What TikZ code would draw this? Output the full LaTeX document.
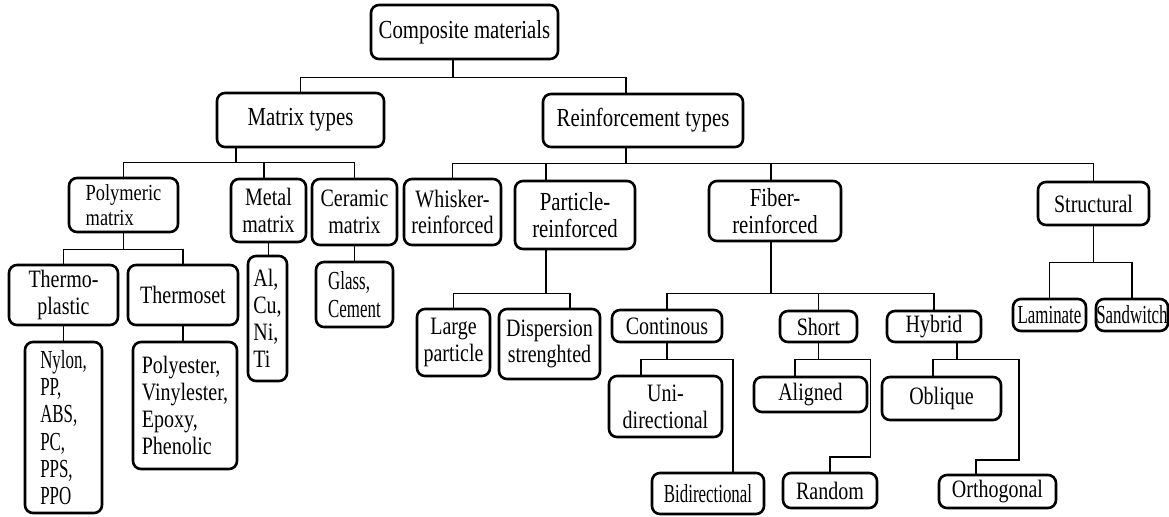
\documentclass[tikz,border=0pt]{standalone}
\usepackage{fontspec}
\setmainfont{Liberation Serif}[FakeStretch=0.8]
\newfontfamily\narrowserif{Liberation Serif}[FakeStretch=0.65]
\tikzset{
  box/.style={draw,line width=1.3pt,rounded corners=4pt,align=center,inner sep=1pt},
  sz/.style 2 args={minimum width=#1*0.5pt,minimum height=#2*0.5pt},
  fL/.style={font=\fontsize{13}{13.5}\selectfont},
  fM/.style={font=\fontsize{12.5}{13.4}\selectfont},
  fS/.style={font=\fontsize{11.5}{12.5}\selectfont},
  fN/.style={font=\narrowserif\fontsize{13}{13.6}\selectfont},
  link/.style={line width=0.8pt}}

\begin{document}
\begin{tikzpicture}[x=0.5pt,y=-0.5pt]
\useasboundingbox (0,0) rectangle (1169,516);
\node[box,fL,sz={187}{54}] (comp) at (464.5,32) {Composite materials};
\node[box,fL,sz={167}{54}] (matrix) at (300.5,120) {Matrix types};
\node[box,fL,sz={200}{53}] (reinf) at (643,120.5) {Reinforcement types};
\node[box,fS,sz={109}{54},align=left] (poly) at (123.5,205) {Polymeric\\matrix};
\node[box,fM,sz={75}{63}] (metal) at (268.5,210.5) {Metal\\matrix};
\node[box,fM,sz={85}{66}] (ceram) at (354.5,212) {Ceramic\\matrix};
\node[box,fM,sz={97}{66}] (whisk) at (452.5,212) {Whisker-\\reinforced};
\node[box,fL,sz={120}{68}] (partic) at (575,215) {Particle-\\reinforced};
\node[box,fL,sz={132}{60}] (fiber) at (775,211) {Fiber-\\reinforced};
\node[box,fM,sz={111}{43}] (struct) at (1093.5,203.5) {Structural};
\node[box,fM,sz={109}{60}] (thplast) at (63.5,295) {Thermo-\\plastic};
\node[box,fM,sz={110}{60}] (thset) at (183,295) {Thermoset};
\node[box,fN,sz={77}{171},align=left] (nylon) at (63.5,427.5) {Nylon,\\PP,\\ABS,\\PC,\\PPS,\\PPO};
\node[box,fM,sz={104}{127},align=left] (polyes) at (185,405.5) {Polyester,\\Vinylester,\\Epoxy,\\Phenolic};
\node[box,fM,sz={39}{125},align=left] (alcu) at (267.5,318.5) {Al,\\Cu,\\Ni,\\Ti};
\node[box,fN,sz={77}{65},align=left] (glass) at (354.5,294.5) {Glass,\\Cement};
\node[box,fM,sz={73}{67}] (large) at (453.5,342.5) {Large\\particle};
\node[box,fM,sz={101}{70}] (disp) at (549.5,344) {Dispersion\\strenghted};
\node[box,fM,sz={110}{32}] (cont) at (667,326) {Continous};
\node[box,fM,sz={77}{31}] (short) at (818.5,326.5) {Short};
\node[box,fM,sz={94}{31}] (hybrid) at (934,326.5) {Hybrid};
\node[box,fM,sz={113}{61}] (unidir) at (665.5,406.5) {Uni-\\directional};
\node[box,fN,sz={112}{41}] (bidir) at (708,493.5) {Bidirectional};
\node[box,fM,sz={113}{35}] (aligned) at (810.5,394.5) {Aligned};
\node[box,fM,sz={94}{35}] (random) at (830,490.5) {Random};
\node[box,fM,sz={119}{43}] (oblique) at (941.5,398.5) {Oblique};
\node[box,fM,sz={117}{33}] (orthog) at (997.5,491.5) {Orthogonal};
\node[box,fN,sz={73}{32},inner sep=0pt] (lamin) at (1049.5,315) {Laminate};
\node[box,fN,sz={72}{32},inner sep=0pt] (sandw) at (1132,315) {Sandwitch};
\draw[link] ([xshift=-5.75pt]comp.south) -- ++(0,17) coordinate (c0);
\draw[link] (matrix.north) |- (c0) -| ([xshift=-8.5pt]reinf.north);
\draw[link] ([xshift=-32.25pt]matrix.south) -- ++(0,14) coordinate (m0);
\draw[link] (poly.north) |- (m0) -| (ceram.north);
\draw[link] ([xshift=-2.25pt]metal.north) |- (m0);
\draw[link] ([xshift=-8.5pt]reinf.south) -- ++(0,15) coordinate (r0);
\draw[link] (whisk.north) |- (r0) -| (struct.north);
\draw[link] ([xshift=-14.5pt]partic.north) |- (r0);
\draw[link] ([xshift=-2pt]fiber.north) |- (r0);
\draw[link] (poly.south) -- ++(0,16) coordinate (p0);
\draw[link] (thplast.north) |- (p0) -| (thset.north);
\draw[link] (thplast.south) -- (nylon.north);
\draw[link] (thset.south) -- (thset.south |- polyes.north);
\draw[link] (metal.south) -- (metal.south |- alcu.north);
\draw[link] (ceram.south) -- (glass.north);
\draw[link] ([xshift=-14.5pt]partic.south) -- ++(0,43) coordinate (q0);
\draw[link] (large.north) |- (q0) -| ([xshift=10.25pt]disp.north);
\draw[link] ([xshift=-2pt]fiber.south) -- ++(0,51) coordinate (f0);
\draw[link] (cont.north) |- (f0) -| (hybrid.north);
\draw[link] (short.north) |- (f0);
\draw[link] (cont.south) -- ++(0,16) coordinate (k0);
\draw[link] ([xshift=-12.25pt]unidir.north) |- (k0) -| ([xshift=12.5pt]bidir.north);
\draw[link] (short.south) -- ++(0,16) coordinate (s0);
\draw[link] ([xshift=-7.75pt]aligned.north) |- (s0) -- ++(52,0) |- ([yshift=7.5pt]random.north) -- (random.north);
\draw[link] ([xshift=11.5pt]hybrid.south) -- ++(0,16) coordinate (h0);
\draw[link] ([xshift=-4.25pt]oblique.north) |- (h0) -- ++(62,0) |- ([xshift=-10.75pt,yshift=7pt]orthog.north) -- ([xshift=-10.75pt]orthog.north);
\draw[link] (struct.south) -- ++(0,36) coordinate (t0);
\draw[link] (lamin.north) |- (t0) -| (sandw.north);
\end{tikzpicture}
\end{document}
